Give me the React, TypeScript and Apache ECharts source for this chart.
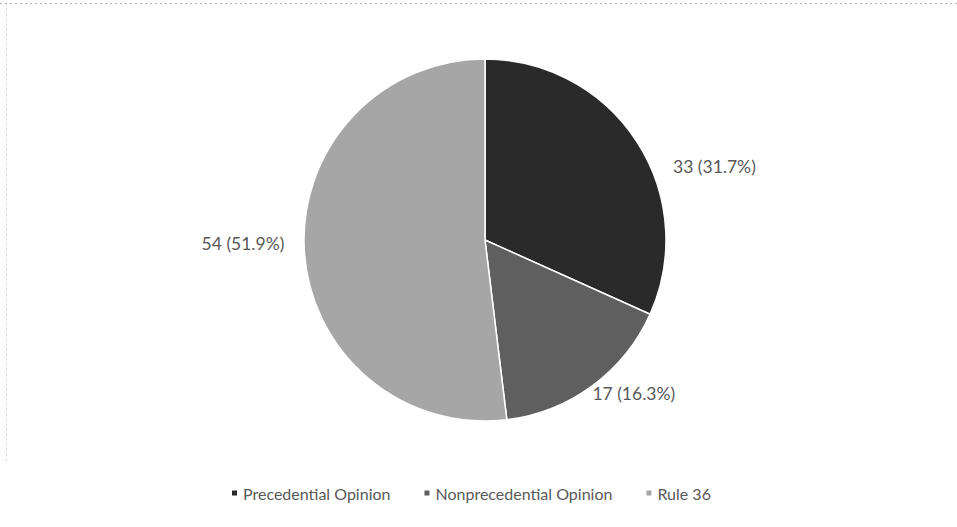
import React, { useEffect, useRef } from "react";
import * as echarts from "echarts";

const categories = ["Precedential Opinion", "Nonprecedential Opinion", "Rule 36"];
const counts = [33, 17, 54];
const percents = ["31.7%", "16.3%", "51.9%"];
const colors = ["#2a2a2a", "#5f5f5f", "#a6a6a6"];

const labelShift = [
  [21, 31],
  [-12, -2],
  [-3, -8],
];

export default function App() {
  const ref = useRef<HTMLDivElement>(null);
  useEffect(() => {
    if (!ref.current) return;
    const chart = echarts.init(ref.current, undefined, { renderer: "svg" });
    chart.setOption({
      animation: false,
      backgroundColor: "#ffffff",
      graphic: [
        {
          type: "line",
          shape: { x1: 0, y1: 3.5, x2: 957, y2: 3.5 },
          style: { stroke: "#b5b5b5", lineWidth: 1, lineDash: [2, 3] },
          silent: true,
        },
        {
          type: "line",
          shape: { x1: 6.5, y1: 3.5, x2: 6.5, y2: 463 },
          style: { stroke: "#d0d0d0", lineWidth: 1, lineDash: [2, 3] },
          silent: true,
        },
      ],
      legend: {
        top: 480,
        left: 225,
        itemWidth: 7,
        itemHeight: 7,
        itemGap: 32,
        icon: "rect",
        textStyle: { color: "#595959", fontSize: 16, fontFamily: "Lato" },
        data: categories,
      },
      series: [
        {
          type: "pie",
          center: [485, 240],
          radius: [0, 181],
          startAngle: 90,
          clockwise: true,
          itemStyle: { borderColor: "#ffffff", borderWidth: 1.5 },
          label: {
            show: true,
            position: "outside",
            color: "#595959",
            fontSize: 17.5,
            fontFamily: "Lato",
            formatter: (p: any) => `${counts[p.dataIndex]} (${percents[p.dataIndex]})`,
          },
          labelLine: { show: false, length: 12, length2: 0 },
          labelLayout: (p: any) => ({ dx: labelShift[p.dataIndex][0], dy: labelShift[p.dataIndex][1] }),
          data: categories.map((c, i) => ({
            name: c,
            value: counts[i],
            itemStyle: { color: colors[i] },
          })),
        },
      ],
    });
    return () => chart.dispose();
  }, []);
  return (
    <div
      ref={ref}
      style={{ position: "fixed", left: 0, top: 0, width: 957, height: 527 }}
    />
  );
}
